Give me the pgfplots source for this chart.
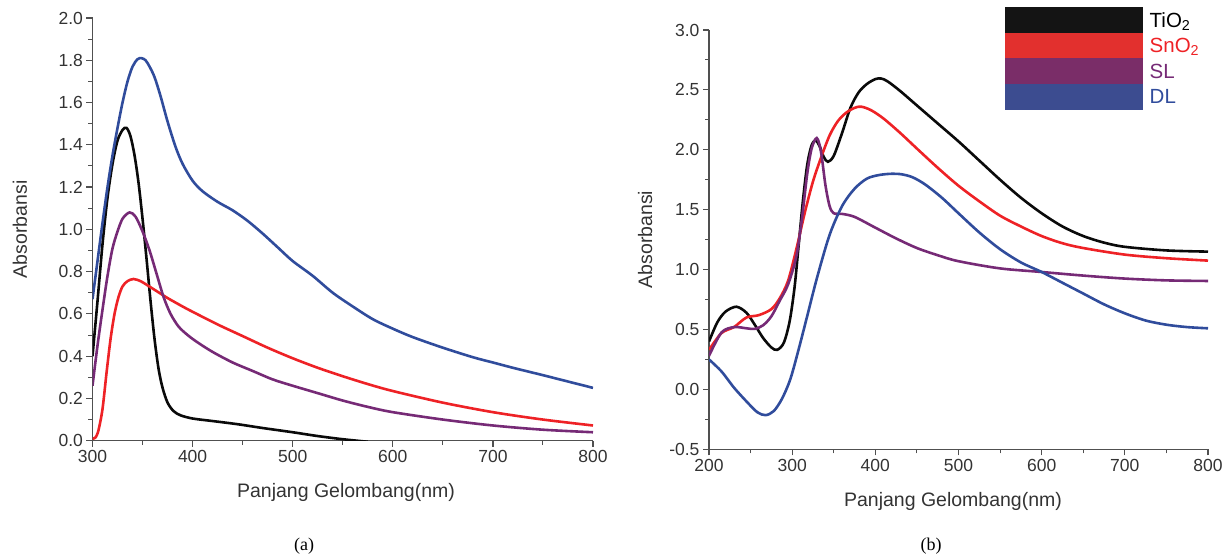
\documentclass[border=0pt]{standalone}
\usepackage{fontspec}
\setmainfont{Liberation Sans}
\newfontfamily\seriffont{Liberation Serif}
\usepackage{pgfplots}
\pgfplotsset{compat=1.18}
\definecolor{cblack}{RGB}{10,10,10}
\definecolor{cred}{RGB}{238,34,38}
\definecolor{cpurple}{RGB}{118,42,118}
\definecolor{cblue}{RGB}{48,76,156}
\definecolor{axgray}{RGB}{80,80,80}
\definecolor{lgblack}{RGB}{20,20,20}
\definecolor{lgred}{RGB}{226,48,46}
\definecolor{lgpurple}{RGB}{122,45,104}
\definecolor{lgblue}{RGB}{60,76,144}

\pgfplotsset{
  myaxis/.style={
    scale only axis,
    anchor=south west,
    axis x line*=bottom,
    axis y line*=left,
    tick align=outside,
    axis line style={draw=axgray, line width=1.3pt},
    major tick style={draw=axgray, line width=1.2pt},
    minor tick style={draw=axgray, line width=1.0pt},
    major tick length=6pt,
    minor tick length=4pt,
    minor x tick num=1,
    /pgf/number format/assume math mode=true,
    tick label style={font=\fontsize{17.5}{20}\selectfont, text=black!80},
    label style={font=\fontsize{19.5}{22}\selectfont, text=black!80},
    yticklabel style={/pgf/number format/.cd, fixed, fixed zerofill, precision=1},
    xticklabel style={/pgf/number format/.cd, fixed, precision=0},
    every axis plot/.append style={line width=2.6pt, smooth},
  }
}

\begin{document}
\begin{tikzpicture}[x=1pt,y=1pt]
\useasboundingbox (0,0) rectangle (1231,557);

% ---------------- (a) ----------------
\begin{axis}[myaxis,
  at={(92.5pt,116.3pt)},
  width=500.5pt, height=422.7pt,
  xmin=300, xmax=800, ymin=0, ymax=2,
  xtick={300,400,500,600,700,800},
  ytick={0,0.2,0.4,0.6,0.8,1.0,1.2,1.4,1.6,1.8,2.0},
  minor y tick num=1,
  xlabel={Panjang Gelombang(nm)},
  ylabel={Absorbansi},
  xlabel style={at={(axis description cs:0.5065,-0.1214)}, anchor=center},
  ylabel style={at={(axis description cs:-0.145,0.5)}, anchor=center},
]
\addplot[cblack] coordinates {
(300,0.40)(305,0.66)(310,0.93)(315,1.15)(320,1.31)(325,1.42)(330,1.47)(334,1.48)
(338,1.44)(342,1.35)(346,1.22)(350,1.05)(354,0.86)(358,0.66)(362,0.48)(366,0.34)
(370,0.25)(375,0.18)(381,0.14)(388,0.12)(400,0.105)(420,0.093)(445,0.078)(470,0.06)
(500,0.04)(525,0.022)(550,0.007)(575,-0.005)};
\addplot[cred] coordinates {
(300,0.01)(303,0.015)(306,0.05)(310,0.15)(314,0.32)(318,0.48)(322,0.60)(326,0.68)
(330,0.73)(335,0.755)(341,0.765)(348,0.755)(355,0.735)(365,0.705)(375,0.675)(390,0.635)
(400,0.61)(425,0.55)(450,0.495)(475,0.44)(500,0.39)(525,0.345)(550,0.305)(575,0.268)
(600,0.235)(650,0.18)(700,0.135)(750,0.10)(800,0.072)};
\addplot[cpurple] coordinates {
(300,0.26)(305,0.45)(310,0.62)(315,0.78)(320,0.91)(325,0.99)(330,1.05)(337,1.08)
(343,1.06)(350,0.99)(357,0.90)(364,0.79)(371,0.68)(378,0.60)(386,0.54)(395,0.50)
(405,0.465)(420,0.42)(440,0.37)(460,0.33)(480,0.29)(500,0.26)(525,0.225)(550,0.19)
(575,0.16)(600,0.135)(650,0.10)(700,0.072)(750,0.052)(800,0.04)};
\addplot[cblue] coordinates {
(300,0.67)(305,0.85)(310,1.03)(315,1.20)(320,1.35)(325,1.48)(330,1.60)(335,1.70)
(340,1.77)(345,1.805)(349,1.81)(353,1.80)(357,1.77)(362,1.72)(368,1.63)(375,1.51)
(383,1.39)(390,1.31)(400,1.23)(410,1.18)(425,1.13)(440,1.09)(455,1.04)(470,0.98)
(485,0.915)(500,0.85)(520,0.78)(540,0.70)(560,0.635)(580,0.575)(600,0.53)(620,0.49)
(650,0.44)(680,0.395)(700,0.37)(720,0.345)(750,0.31)(775,0.28)(800,0.25)};
\end{axis}

% ---------------- (b) ----------------
\begin{axis}[myaxis,
  at={(709pt,107.7pt)},
  width=499pt, height=419.3pt,
  xmin=200, xmax=800, ymin=-0.5, ymax=3,
  xtick={200,300,400,500,600,700,800},
  ytick={-0.5,0,0.5,1.0,1.5,2.0,2.5,3.0},
  minor y tick num=1,
  xlabel={Panjang Gelombang(nm)},
  ylabel={Absorbansi},
  xlabel style={at={(axis description cs:0.489,-0.1233)}, anchor=center},
  ylabel style={at={(axis description cs:-0.128,0.5)}, anchor=center},
  legend cell align=left,
  legend style={at={(axis description cs:0.593,1.055)}, anchor=north west,
    draw=none, fill=none, inner sep=0pt, row sep=0pt, column sep=7pt,
    nodes={inner sep=0pt, text depth=0pt},
    font=\fontsize{20.5}{22}\selectfont},
  legend image code/.code={\fill[#1] (0pt,-11.5pt) rectangle (135pt,11.5pt);},
]
\addplot[cblack, forget plot] coordinates {
(200,0.40)(210,0.56)(220,0.65)(233,0.69)(245,0.64)(255,0.54)(265,0.43)(275,0.35)
(282,0.33)(290,0.39)(297,0.57)(303,0.86)(308,1.22)(313,1.58)(318,1.87)(323,2.03)
(328,2.08)(333,2.03)(338,1.94)(343,1.90)(350,1.95)(360,2.14)(370,2.35)(380,2.48)
(390,2.55)(400,2.59)(407,2.595)(415,2.57)(430,2.49)(450,2.37)(475,2.22)(500,2.07)
(525,1.91)(550,1.75)(575,1.60)(600,1.47)(625,1.36)(650,1.28)(675,1.225)(700,1.19)
(750,1.16)(800,1.15)};
\addplot[cred, forget plot] coordinates {
(200,0.33)(215,0.47)(230,0.52)(245,0.60)(260,0.62)(275,0.67)(285,0.76)(295,0.905)
(305,1.17)(315,1.47)(325,1.735)(335,1.94)(345,2.12)(355,2.24)(365,2.31)(375,2.35)
(383,2.36)(395,2.33)(410,2.26)(430,2.14)(450,2.01)(475,1.85)(500,1.70)(525,1.57)
(550,1.45)(575,1.36)(600,1.28)(625,1.22)(650,1.18)(700,1.125)(750,1.095)(800,1.075)};
\addplot[cpurple, forget plot] coordinates {
(200,0.28)(215,0.475)(230,0.52)(245,0.51)(255,0.505)(265,0.535)(275,0.61)(285,0.74)
(295,0.875)(305,1.11)(312,1.44)(318,1.795)(323,2.0)(328,2.09)(331,2.085)(335,1.97)
(340,1.705)(345,1.53)(350,1.47)(360,1.465)(375,1.44)(400,1.35)(425,1.26)(450,1.18)
(475,1.12)(500,1.07)(550,1.01)(600,0.98)(650,0.95)(700,0.925)(750,0.91)(800,0.905)};
\addplot[cblue, forget plot] coordinates {
(200,0.25)(215,0.15)(230,0.015)(245,-0.10)(258,-0.19)(268,-0.215)(278,-0.18)(288,-0.075)
(298,0.09)(308,0.34)(318,0.61)(330,0.935)(345,1.29)(360,1.53)(375,1.675)(390,1.76)
(405,1.79)(420,1.80)(432,1.795)(445,1.77)(460,1.71)(480,1.60)(500,1.47)(525,1.31)
(550,1.17)(575,1.06)(600,0.98)(625,0.89)(650,0.80)(675,0.71)(700,0.635)(725,0.575)
(750,0.54)(775,0.52)(800,0.51)};
\addlegendimage{lgblack}
\addlegendentry{\textcolor{black}{TiO\textsubscript{2}}}
\addlegendimage{lgred}
\addlegendentry{\textcolor{cred}{SnO\textsubscript{2}}}
\addlegendimage{lgpurple}
\addlegendentry{\textcolor{cpurple}{SL}}
\addlegendimage{lgblue}
\addlegendentry{\textcolor{cblue}{DL}}
\end{axis}

\node[font=\seriffont\fontsize{18}{20}\selectfont] at (304,11) {(a)};
\node[font=\seriffont\fontsize{18}{20}\selectfont] at (931,11) {(b)};
\end{tikzpicture}
\end{document}
